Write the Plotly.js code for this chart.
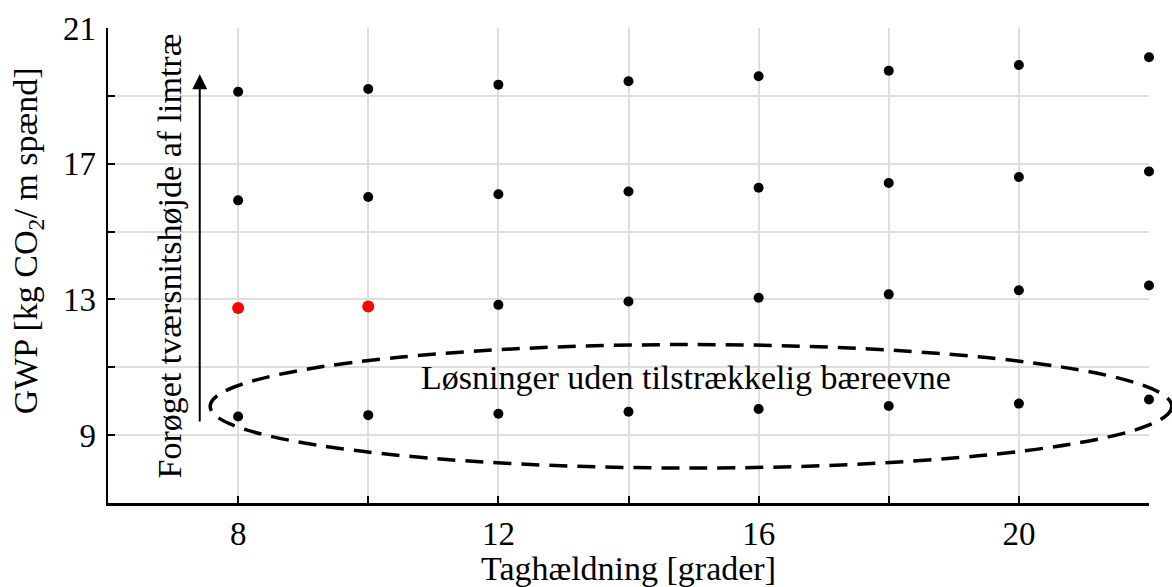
<!DOCTYPE html>
<html>
<head>
<meta charset="utf-8">
<script src="https://cdn.plot.ly/plotly-3.0.1.min.js"></script>
<style>html,body{margin:0;padding:0;background:#fff;}#chart{width:1172px;height:587px;}</style>
</head>
<body>
<div id="chart"></div>
<script>
// Roof slope [degrees]
const slopes = [8, 10, 12, 14, 16, 18, 20, 22];
// GWP [kg CO2 / m span] for four glulam cross-section heights (lowest to highest)
const gwpHeight1 = [9.55, 9.59, 9.63, 9.69, 9.77, 9.86, 9.93, 10.05];
const gwpHeight2 = [12.75, 12.79, 12.84, 12.94, 13.05, 13.15, 13.27, 13.41];
const gwpHeight3 = [15.92, 16.02, 16.10, 16.18, 16.29, 16.43, 16.61, 16.77];
const gwpHeight4 = [19.12, 19.20, 19.33, 19.43, 19.58, 19.74, 19.91, 20.14];
// indices in height-2 series highlighted in red
const highlightIdx = [0, 1];

// labelled ticks (every 4) and unlabelled minor ticks/grid (every 2)
const xTickVals = [8, 12, 16, 20];
const xTickText = ['8', '12', '16', '20'];
const yTickVals = [9, 13, 17, 21];
const yTickText = ['9', '13', '17', '21'];
const minorStep = 2;

const xRange = [6, 22];
const yRange = [7, 21];

const xTitle = 'Taghældning [grader]';
const yTitle = 'GWP [kg CO<sub>2</sub>/ m spænd]';

// annotation geometry in data units
const ellipseData = {x0: 7.57, x1: 22.35, y0: 8.03, y1: 11.67};
const arrowData = {x: 7.41, yTail: 9.36, yHead: 19.64};
const ellipseLabel = {x: 14.88, y: 10.69, text: 'Løsninger uden tilstrækkelig bæreevne'};
const arrowLabel = {x: 6.95, y: 14.29, text: 'Forøget tværsnitshøjde af limtræ'};
// y-axis title anchor in data units (x left of axis, y along axis)
const yTitlePos = {x: 4.77, y: 14.74};

const FONT = 'Liberation Serif, Times New Roman, serif';
const FS = 34;
const TFS = 33;

function domX(v) { return (v - xRange[0]) / (xRange[1] - xRange[0]); }
function domY(v) { return (v - yRange[0]) / (yRange[1] - yRange[0]); }

const black = '#000000';
const red = '#ff0000';
const gridCol = '#dedede';
const h2Colors = slopes.map((_, i) => highlightIdx.includes(i) ? red : black);
const h2Sizes = slopes.map((_, i) => highlightIdx.includes(i) ? 12 : 10);

function series(y, color, size) {
  return {
    x: slopes, y: y, type: 'scatter', mode: 'markers',
    marker: {color: color, size: size, opacity: 1, line: {width: 0}},
    cliponaxis: false, showlegend: false, hoverinfo: 'x+y'
  };
}

const data = [
  series(gwpHeight1, black, 10),
  series(gwpHeight2, h2Colors, h2Sizes),
  series(gwpHeight3, black, 10),
  series(gwpHeight4, black, 10)
];

function axis(range, tv, tt, t0, standoff) {
  return {
    range: range, tickmode: 'array', tickvals: tv, ticktext: tt,
    showline: true, linecolor: black, linewidth: 2.5,
    ticks: 'inside', ticklen: 7, tickwidth: 2, tickcolor: black,
    showgrid: true, gridcolor: gridCol, gridwidth: 2,
    minor: {tickmode: 'linear', tick0: t0, dtick: minorStep, ticks: 'inside', ticklen: 7,
            tickwidth: 2, tickcolor: black, showgrid: true, gridcolor: gridCol, gridwidth: 2},
    zeroline: false, mirror: false, automargin: false,
    ticklabelstandoff: standoff,
    tickfont: {family: FONT, size: TFS, color: black}
  };
}

const layout = {
  width: 1172, height: 587,
  margin: {l: 108, r: 23, t: 28, b: 84, pad: 0},
  paper_bgcolor: '#ffffff', plot_bgcolor: '#ffffff',
  font: {family: FONT, size: FS, color: black},
  showlegend: false,
  xaxis: Object.assign(axis(xRange, xTickVals, xTickText, 8, 0), {
    title: {text: xTitle, font: {family: FONT, size: FS, color: black}, standoff: 12}
  }),
  yaxis: Object.assign(axis(yRange, yTickVals, yTickText, 9, 3), {
    title: {text: ''}
  }),
  shapes: [{
    type: 'circle', xref: 'x domain', yref: 'y domain',
    x0: domX(ellipseData.x0), x1: domX(ellipseData.x1),
    y0: domY(ellipseData.y0), y1: domY(ellipseData.y1),
    line: {color: black, width: 3.5, dash: '18px,10px'},
    fillcolor: 'rgba(0,0,0,0)', layer: 'above'
  }],
  annotations: [
    {
      x: arrowData.x, y: arrowData.yHead, xref: 'x', yref: 'y',
      ax: arrowData.x, ay: arrowData.yTail, axref: 'x', ayref: 'y',
      text: '', showarrow: true, arrowhead: 2, arrowsize: 1.5, arrowwidth: 2, arrowcolor: black
    },
    {
      x: ellipseLabel.x, y: ellipseLabel.y, xref: 'x', yref: 'y',
      text: ellipseLabel.text, showarrow: false,
      font: {family: FONT, size: FS, color: black}
    },
    {
      x: arrowLabel.x, y: arrowLabel.y, xref: 'x', yref: 'y',
      text: arrowLabel.text, showarrow: false, textangle: -90,
      font: {family: FONT, size: FS, color: black}
    },
    {
      x: domX(yTitlePos.x), y: domY(yTitlePos.y), xref: 'x domain', yref: 'y domain',
      text: yTitle, showarrow: false, textangle: -90,
      xanchor: 'center', yanchor: 'middle',
      font: {family: FONT, size: FS, color: black}
    }
  ]
};

Plotly.newPlot('chart', data, layout, {staticPlot: true, displayModeBar: false});
</script>
</body>
</html>
